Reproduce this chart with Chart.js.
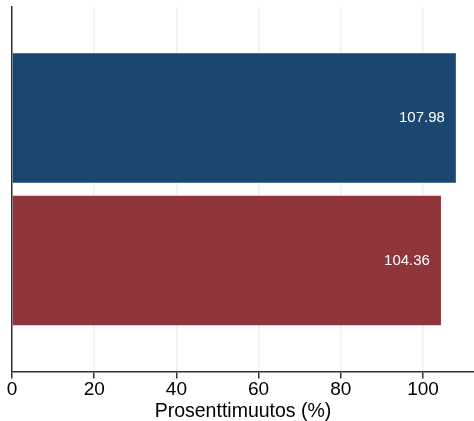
<!DOCTYPE html>
<html>
<head>
<meta charset="utf-8">
<script src="https://cdn.jsdelivr.net/npm/chart.js@4/dist/chart.umd.min.js"></script>
<style>
    body { margin: 0; background: #fff; }
    #wrap { width: 474px; height: 421px; position: relative; }
</style>
</head>
<body>
<div id="wrap"><canvas id="grafica"></canvas></div>
<script>
// Datos
const categorias = [''];
const nombresSeries = ['Sarja 1', 'Sarja 2'];
const valores = [107.98, 104.36];
const colores = ['#1a476f', '#90353b'];
const ticksX = [0, 20, 40, 60, 80, 100];
const tituloX = 'Prosenttimuutos (%)';

const fuente = "'Liberation Sans', Arial, sans-serif";

// Etiquetas dentro de la barra, junto al extremo derecho
const etiquetasBarras = {
    id: 'etiquetasBarras',
    afterDatasetsDraw(chart) {
        const ctx = chart.ctx;
        ctx.save();
        ctx.fillStyle = '#ffffff';
        ctx.font = '15px ' + fuente;
        ctx.textAlign = 'right';
        ctx.textBaseline = 'middle';
        chart.data.datasets.forEach((ds, i) => {
            chart.getDatasetMeta(i).data.forEach((bar, j) => {
                ctx.fillText(ds.data[j].toFixed(2), bar.x - 11, bar.y);
            });
        });
        ctx.restore();
    }
};

const datasets = nombresSeries.map((nombre, i) => ({
    label: nombre,
    data: [valores[i]],
    backgroundColor: colores[i],
    borderWidth: 0,
    categoryPercentage: 0.782,
    barPercentage: 0.908
}));

new Chart(document.getElementById('grafica'), {
    type: 'bar',
    data: { labels: categorias, datasets: datasets },
    plugins: [etiquetasBarras],
    options: {
        indexAxis: 'y',
        responsive: true,
        maintainAspectRatio: false,
        animation: false,
        layout: { padding: { left: 4, top: 7, right: 0, bottom: 0 } },
        plugins: {
            legend: { display: false },
            tooltip: { enabled: false }
        },
        scales: {
            x: {
                type: 'linear',
                min: 0,
                max: 112.4,
                afterBuildTicks: scale => { scale.ticks = ticksX.map(v => ({ value: v })); },
                ticks: {
                    color: '#000',
                    font: { family: fuente, size: 19, lineHeight: 1 },
                    padding: 2,
                    maxRotation: 0
                },
                grid: { color: '#eaf2f3', lineWidth: 1.5, tickColor: '#333', tickLength: 7 },
                border: { color: '#333', width: 1.5 },
                title: {
                    display: true,
                    text: tituloX,
                    color: '#000',
                    font: { family: fuente, size: 19.5, lineHeight: 1 },
                    padding: { top: 0, bottom: 0 }
                }
            },
            y: {
                offset: true,
                ticks: { display: false },
                grid: { display: false },
                border: { color: '#333', width: 1.5 }
            }
        }
    }
});
</script>
</body>
</html>
